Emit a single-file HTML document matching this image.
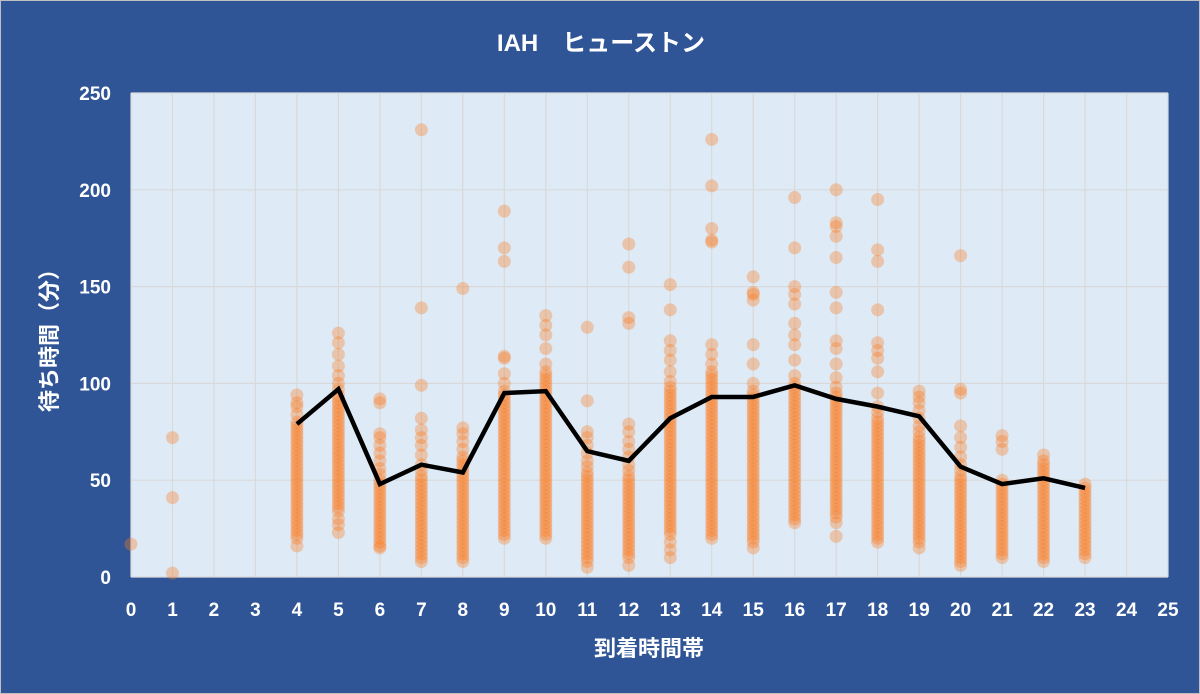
<!DOCTYPE html>
<html><head><meta charset="utf-8">
<style>
html,body{margin:0;padding:0;background:#fff}
#wrap{position:relative;width:1198px;height:692px;border:1px solid #bfbfbf;background:#2f5597;overflow:hidden}
svg{position:absolute;left:0;top:0}
text{font-family:"Liberation Sans","Noto Sans CJK JP",sans-serif;fill:#fff;font-weight:bold}
</style></head><body>
<div id="wrap">
<svg id="chart" width="1200" height="694"></svg>
</div>
<script>
const hours = [0,1,4,5,6,7,8,9,10,11,12,13,14,15,16,17,18,19,20,21,22,23];
const waits = [
[17],
[72,41,2],
[94,90,88,84,80,78,76,74,72,70,68,66,64,62,60,58,56,54,52,50,48,46,44,42,40,38,36,34,32,30,28,26,24,22,20,16],
[126,121,115,109,104,100,97,94,92,90,88,86,84,82,80,78,76,74,72,70,68,66,64,62,60,58,56,54,52,50,48,46,44,42,40,38,36,34,30,27,23],
[92,90,74,72,68,64,60,56,53,50,48,46,44,42,40,38,36,34,32,30,28,26,24,22,20,18,16,15],
[231,139,99,82,76,72,68,63,58,55,52,50,48,46,44,42,40,38,36,34,32,30,28,26,24,22,20,18,16,14,12,10,8],
[149,77,74,70,66,62,60,58,56,54,52,50,48,46,44,42,40,38,36,34,32,30,28,26,24,22,20,18,16,14,12,10,8],
[189,170,163,114,113,105,100,96,94,92,90,88,86,84,82,80,78,76,74,72,70,68,66,64,62,60,58,56,54,52,50,48,46,44,42,40,38,36,34,32,30,28,26,24,22,20],
[135,130,125,118,110,106,104,102,100,98,96,94,92,90,88,86,84,82,80,78,76,74,72,70,68,66,64,62,60,58,56,54,52,50,48,46,44,42,40,38,36,34,32,30,28,26,24,22,20],
[129,91,75,72,68,64,60,57,54,52,50,48,46,44,42,40,38,36,34,32,30,28,26,24,22,20,18,16,14,12,10,8,5],
[172,160,134,131,79,75,70,66,62,58,55,52,50,48,46,44,42,40,38,36,34,32,30,28,26,24,22,20,18,16,14,12,10,6],
[151,138,122,117,112,106,101,98,96,94,92,90,88,86,84,82,80,78,76,74,72,70,68,66,64,62,60,58,56,54,52,50,48,46,44,42,40,38,36,34,32,30,28,26,24,22,18,14,10],
[226,202,180,174,173,120,115,110,106,104,102,100,98,96,94,92,90,88,86,84,82,80,78,76,74,72,70,68,66,64,62,60,58,56,54,52,50,48,46,44,42,40,38,36,34,32,30,28,26,24,22,20],
[155,147,146,143,120,110,100,96,94,92,90,88,86,84,82,80,78,76,74,72,70,68,66,64,62,60,58,56,54,52,50,48,46,44,42,40,38,36,34,32,30,28,26,24,22,20,18,15],
[196,170,150,146,141,131,125,120,112,104,100,98,96,94,92,90,88,86,84,82,80,78,76,74,72,70,68,66,64,62,60,58,56,54,52,50,48,46,44,42,40,38,36,34,32,30,28],
[200,183,181,176,165,147,139,122,118,110,103,98,95,93,91,89,87,85,83,81,79,77,75,73,71,69,67,65,63,61,59,57,55,53,51,49,47,45,43,41,39,37,35,33,31,28,21],
[195,169,163,138,121,117,113,106,95,88,85,82,80,78,76,74,72,70,68,66,64,62,60,58,56,54,52,50,48,46,44,42,40,38,36,34,32,30,28,26,24,22,20,18],
[96,93,90,86,82,78,75,72,70,68,66,64,62,60,58,56,54,52,50,48,46,44,42,40,38,36,34,32,30,28,26,24,22,20,18,15],
[166,97,95,78,72,67,62,58,55,52,50,48,46,44,42,40,38,36,34,32,30,28,26,24,22,20,18,16,14,12,10,8,6],
[73,70,66,50,48,46,44,42,40,38,36,34,32,30,28,26,24,22,20,18,16,14,12,10],
[63,60,58,56,54,52,50,48,46,44,42,40,38,36,34,32,30,28,26,24,22,20,18,16,14,12,10,8],
[48,46,44,42,40,38,36,34,32,30,28,26,24,22,20,18,16,14,12,10]
];
const meanHours = [4,5,6,7,8,9,10,11,12,13,14,15,16,17,18,19,20,21,22,23];
const meanValues = [79,97,48,58,54,95,96,65,60,82,93,93,99,92,88,83,57,48,51,46];
const xTicks = [0,1,2,3,4,5,6,7,8,9,10,11,12,13,14,15,16,17,18,19,20,21,22,23,24,25];
const yTicks = [0,50,100,150,200,250];

const NS='http://www.w3.org/2000/svg';
const svg=document.getElementById('chart');
const L=130,R=1167,T=92,B=576;
const xs=v=>L+(v-0)/(25-0)*(R-L);
const ys=v=>B-(v-0)/(250-0)*(B-T);
function mk(tag,attrs,parent){const e=document.createElementNS(NS,tag);for(const k in attrs)e.setAttribute(k,attrs[k]);(parent||svg).appendChild(e);return e;}

const bg=mk('rect',{x:L,y:T,width:R-L,height:B-T,fill:'#deebf7'});


const grid=mk('g',{stroke:'#d9d9d9','stroke-width':1.2});


xTicks.forEach(t=>{mk('line',{x1:xs(t),x2:xs(t),y1:T,y2:B},grid);});
yTicks.forEach(t=>{mk('line',{x1:L,x2:R,y1:ys(t),y2:ys(t)},grid);});

xTicks.forEach(t=>{const e=mk('text',{x:xs(t),y:615,'text-anchor':'middle','font-size':19});e.textContent=t;

});
yTicks.forEach(t=>{const e=mk('text',{x:110,y:ys(t)+7,'text-anchor':'end','font-size':19});e.textContent=t;

});

const pts=mk('g',{fill:'#fb7a1f','fill-opacity':0.35});


hours.forEach((h,i)=>{waits[i].forEach(v=>{const c=mk('circle',{cx:xs(h),cy:ys(v),r:6.5},pts);

});});

const line=mk('polyline',{points:meanHours.map((h,i)=>xs(h)+','+ys(meanValues[i])).join(' '),fill:'none',stroke:'#000','stroke-width':4.5,'stroke-linejoin':'miter'});



const title=mk('text',{x:600,y:50,'text-anchor':'middle','font-size':24});
title.textContent='IAH　ヒューストン';


const xt=mk('text',{x:648,y:655,'text-anchor':'middle','font-size':22});
xt.textContent='到着時間帯';


const yt=mk('text',{x:0,y:0,'text-anchor':'middle','font-size':22,transform:'translate(56,334) rotate(-90)'});
yt.textContent='待ち時間（分）';


</script>
</body></html>
